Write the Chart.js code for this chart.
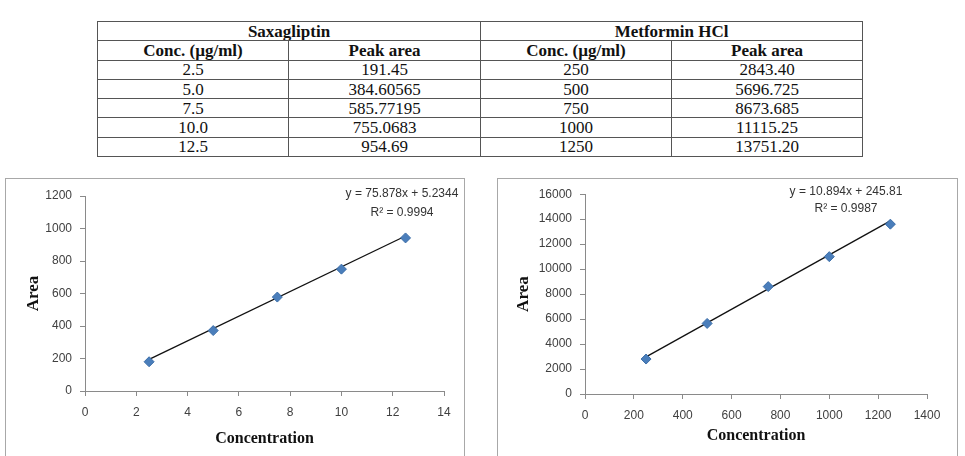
<!DOCTYPE html>
<html>
<head>
<meta charset="utf-8">
<script src="https://cdn.jsdelivr.net/npm/chart.js@4"></script>
<style>
  html, body { margin:0; padding:0; background:#fff; width:965px; height:456px; overflow:hidden; position:relative; }
  table { position:absolute; left:97px; top:21px; width:765px; border-collapse:collapse; table-layout:fixed;
          font-family:"Liberation Serif","Times New Roman",serif; font-size:17px; color:#111; }
  tr { height:19.3px; }
  td, th { border:1px solid #555; padding:0; text-align:center; line-height:17px; overflow:hidden; white-space:nowrap; }
  th { font-weight:bold; }
  .box { position:absolute; top:178px; border:1px solid #a8a8a8; border-bottom:none; box-sizing:border-box; }
  .box canvas { position:absolute; left:0; top:0; }
  .eq { position:absolute; font-family:"Liberation Sans",Arial,sans-serif; font-size:12px; color:#333; text-align:center; white-space:nowrap; line-height:19px; }
</style>
</head>
<body>
<table id="tbl">
  <colgroup><col style="width:191px"><col style="width:192px"><col style="width:191px"><col style="width:191px"></colgroup>
  <thead>
    <tr><th colspan="2">Saxagliptin</th><th colspan="2">Metformin HCl</th></tr>
    <tr><th>Conc. (µg/ml)</th><th>Peak area</th><th>Conc. (µg/ml)</th><th>Peak area</th></tr>
  </thead>
  <tbody id="tbody"></tbody>
</table>

<div class="box" style="left:5px; width:460px; height:278px;"><canvas id="c1" width="458" height="277"></canvas></div>
<div class="box" style="left:497px; width:461px; height:278px;"><canvas id="c2" width="459" height="277"></canvas></div>

<div class="eq" style="left:302px; top:184px; width:200px;">y = 75.878x + 5.2344<br>R² = 0.9994</div>
<div class="eq" style="left:746px; top:183px; width:200px; line-height:17px;">y = 10.894x + 245.81<br>R² = 0.9987</div>

<script>
// ---- Table data ----
const saxConcText = ["2.5", "5.0", "7.5", "10.0", "12.5"];
const saxAreaText = ["191.45", "384.60565", "585.77195", "755.0683", "954.69"];
const metConcText = ["250", "500", "750", "1000", "1250"];
const metAreaText = ["2843.40", "5696.725", "8673.685", "11115.25", "13751.20"];

// ---- Plotted points ----
const saxX = [2.5, 5, 7.5, 10, 12.5];
const saxY = [180, 372, 578, 750, 942];
const metX = [250, 500, 750, 1000, 1250];
const metY = [2800, 5650, 8600, 11000, 13600];

// ---- Trendline end points ----
const saxTrendX = [2.5, 12.5];
const saxTrendY = [195, 954];
const metTrendX = [250, 1250];
const metTrendY = [2970, 13863];

// ---- Axis ranges ----
const saxXTicks = { min: 0, max: 14, step: 2 };
const saxYTicks = { min: 0, max: 1200, step: 200 };
const metXTicks = { min: 0, max: 1400, step: 200 };
const metYTicks = { min: 0, max: 16000, step: 2000 };

const tb = document.getElementById('tbody');
for (let i = 0; i < saxConcText.length; i++) {
  const tr = document.createElement('tr');
  [saxConcText[i], saxAreaText[i], metConcText[i], metAreaText[i]].forEach(t => {
    const td = document.createElement('td'); td.textContent = t; tr.appendChild(td);
  });
  tb.appendChild(tr);
}

function pts(xs, ys) { return xs.map((x, i) => ({ x: x, y: ys[i] })); }

function makeChart(id, xs, ys, tx, ty, xr, yr, L) {
  const tickFont = { family: "'Liberation Sans', Arial, sans-serif", size: 12 };
  const titleFont = { family: "'Liberation Serif', 'Times New Roman', serif", size: 16, weight: 'bold' };
  new Chart(document.getElementById(id), {
    type: 'scatter',
    data: {
      datasets: [
        { data: pts(xs, ys), pointStyle: 'rectRot', pointRadius: 5, pointHoverRadius: 5,
          backgroundColor: '#4a7ebb', borderColor: '#3c6ea8', borderWidth: 1 },
        { type: 'line', data: pts(tx, ty), borderColor: '#111', borderWidth: 1.3,
          pointRadius: 0, fill: false, tension: 0 }
      ]
    },
    options: {
      responsive: false, animation: false,
      layout: { padding: { left: 0, top: L.top, right: L.right, bottom: 0 } },
      plugins: { legend: { display: false }, tooltip: { enabled: false } },
      scales: {
        x: {
          type: 'linear', min: xr.min, max: xr.max,
          ticks: { stepSize: xr.step, font: tickFont, color: '#404040', padding: L.xpad, maxRotation: 0, callback: v => String(v) },
          grid: { drawOnChartArea: false, drawTicks: true, tickLength: 5, color: '#8a8a8a' },
          border: { display: true, color: '#8a8a8a' },
          title: { display: true, text: 'Concentration', font: titleFont, color: '#111', padding: { top: 0, bottom: L.xtp } },
          afterFit: s => { s.height = L.xh; }
        },
        y: {
          type: 'linear', min: yr.min, max: yr.max,
          ticks: { stepSize: yr.step, font: tickFont, color: '#404040', padding: 8, callback: v => String(v) },
          grid: { drawOnChartArea: false, drawTicks: true, tickLength: 5, color: '#8a8a8a' },
          border: { display: true, color: '#8a8a8a' },
          title: { display: true, text: 'Area', font: { family: titleFont.family, size: 17, weight: 'bold' }, color: '#111', padding: { top: L.ytp, bottom: 0 } },
          afterFit: s => { s.width = L.yw; }
        }
      }
    }
  });
}

makeChart('c1', saxX, saxY, saxTrendX, saxTrendY, saxXTicks, saxYTicks,
  { top: 17, right: 20, xh: 65, yw: 79, xpad: 9, xtp: 8, ytp: 17 });
makeChart('c2', metX, metY, metTrendX, metTrendY, metXTicks, metYTicks,
  { top: 15, right: 30, xh: 62, yw: 87, xpad: 9, xtp: 11, ytp: 15 });
</script>
</body>
</html>
